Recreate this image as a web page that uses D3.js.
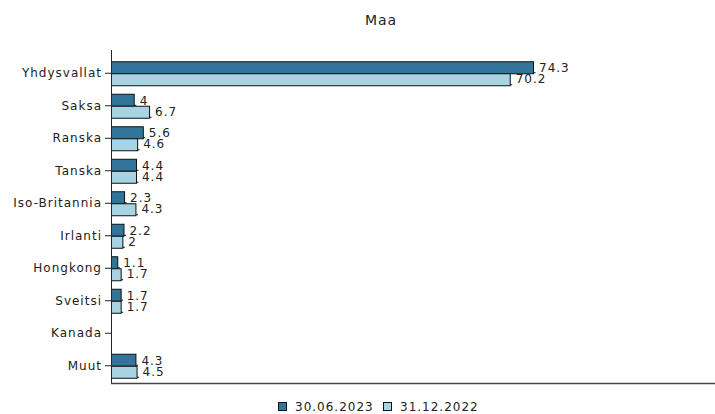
<!DOCTYPE html>
<html>
<head>
	<style>
	body {
		margin: 0;
		background: #fff;
	}
	text {
		font-family: "DejaVu Sans", sans-serif;
		fill: #222;
	}
	</style>
</head>
<body>
	<script src="https://d3js.org/d3.v7.min.js"></script>
	<script>
	var categories = ["Yhdysvallat", "Saksa", "Ranska", "Tanska", "Iso-Britannia", "Irlanti", "Hongkong", "Sveitsi", "Kanada", "Muut"];
	var series = ["30.06.2023", "31.12.2022"];
	var values2023 = [74.3, 4, 5.6, 4.4, 2.3, 2.2, 1.1, 1.7, null, 4.3];
	var values2022 = [70.2, 6.7, 4.6, 4.4, 4.3, 2, 1.7, 1.7, null, 4.5];
	var colors = ["#33749a", "#a8d3e3"];

	var width = 715, height = 414;
	var mLeft = 111, mTop = 57, mBottom = 382;

	var svg = d3.select("body").append("svg")
		.attr("width", width)
		.attr("height", height);

	var y = d3.scaleBand()
		.domain(categories)
		.range([mTop, mBottom]);

	var x = d3.scaleLinear()
		.domain([0, 100])
		.range([mLeft, mLeft + 568]);

	var barH = 12;

	// title
	svg.append("text")
		.attr("x", 381)
		.attr("y", 25)
		.attr("text-anchor", "middle")
		.style("font-size", "14px")
		.style("letter-spacing", "1px")
		.text("Maa");

	var data = [];
	categories.forEach(function(c, i){
		[values2023[i], values2022[i]].forEach(function(v, s){
			if (v != null) data.push({cat: c, s: s, v: v});
		});
	});

	function barY(d){ return y(d.cat) + y.bandwidth() / 2 - barH + d.s * barH; }

	var g = svg.append("g");

	g.selectAll("rect")
		.data(data)
		.enter().append("rect")
			.attr("x", x(0) + 0.5)
			.attr("y", function(d){ return barY(d) + 0.5; })
			.attr("width", function(d){ return x(d.v) - x(0); })
			.attr("height", barH)
			.style("fill", function(d){ return colors[d.s]; })
			.style("stroke", "#111")
			.style("stroke-width", 1);

	// little leaders at bar end
	g.selectAll("line.lead")
		.data(data)
		.enter().append("line")
			.attr("class", "lead")
			.attr("x1", function(d){ return x(d.v) + 0.5; })
			.attr("x2", function(d){ return x(d.v) + 2.5; })
			.attr("y1", function(d){ return barY(d) + barH - 0.5; })
			.attr("y2", function(d){ return barY(d) + barH - 0.5; })
			.style("stroke", "#111");

	g.selectAll("text.val")
		.data(data)
		.enter().append("text")
			.attr("class", "val")
			.attr("x", function(d){ return x(d.v) + 6; })
			.attr("y", function(d){ return y(d.cat) + y.bandwidth() / 2 + (d.s ? 10 : -1); })
			.style("font-size", "12px")
			.style("letter-spacing", "1px")
			.text(function(d){ return d.v; });

	// y axis
	var yAxis = svg.append("g")
		.attr("transform", "translate(" + mLeft + ",0)")
		.call(d3.axisLeft(y).tickSize(6).tickPadding(3).tickSizeOuter(0));
	yAxis.select(".domain").attr("d", "M0.5," + (mTop - 7) + "V" + (mBottom + 1)).style("stroke", "#222");
	yAxis.selectAll("text")
		.style("font-size", "12px")
		.style("font-family", "DejaVu Sans")
		.style("letter-spacing", "1px")
		.attr("fill", "#222");
	yAxis.selectAll("line").style("stroke", "#222");

	// x axis line
	svg.append("line")
		.attr("x1", mLeft)
		.attr("x2", width)
		.attr("y1", mBottom + 1.5)
		.attr("y2", mBottom + 1.5)
		.style("stroke", "#444")
		.style("stroke-width", 1.5);

	// legend
	var legend = svg.append("g");
	var lx = [278, 383];
	series.forEach(function(s, i){
		legend.append("rect")
			.attr("x", lx[i] + 0.5)
			.attr("y", 402.5)
			.attr("width", 8)
			.attr("height", 8)
			.style("fill", colors[i])
			.style("stroke", "#111");
		legend.append("text")
			.attr("x", lx[i] + 17)
			.attr("y", 411)
			.style("font-size", "12px")
			.style("letter-spacing", "1px")
			.text(s);
	});
	</script>
</body>
</html>
